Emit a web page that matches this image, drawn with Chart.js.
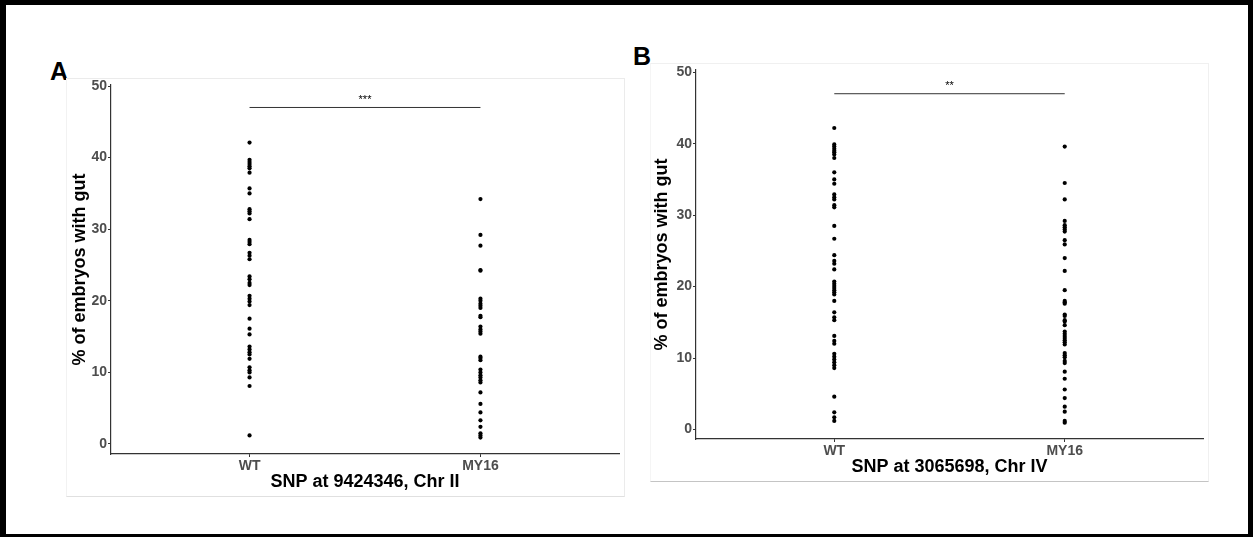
<!DOCTYPE html>
<html>
<head>
<meta charset="utf-8">
<script src="https://cdn.jsdelivr.net/npm/chart.js@4"></script>
<style>
  body { margin: 0; background: #fff; font-family: "Liberation Sans", Arial, sans-serif; }
  #frame { position: relative; width: 1253px; height: 537px; box-sizing: border-box;
           border-style: solid; border-color: #000; border-width: 5px 5px 3px 6px; }
  .panel { position: absolute; background: #fff; }
  #panelA { left: 60px; top: 73px; width: 557px; height: 417px;
            border: 1px solid #ebebeb; border-bottom-color: #e0e0e0; border-left-color: #f2f2f2; }
  #panelB { left: 644px; top: 58px; width: 557px; height: 417px;
            border: 1px solid #f0f0f0; border-bottom-color: #c4c4c4; border-left-color: #f5f5f5; }
  .tag { position: absolute; font-weight: bold; font-size: 25px; line-height: 25px; color: #000; }
</style>
</head>
<body>
<div id="frame">
  <div class="tag" style="left:44px; top:54px;">A</div>
  <div class="tag" style="left:627px; top:39px;">B</div>
  <div class="panel" id="panelA"><canvas id="chartA" width="557" height="417"></canvas></div>
  <div class="panel" id="panelB"><canvas id="chartB" width="557" height="417"></canvas></div>
</div>
<script>
// categories and tick labels
const categories = ['WT', 'MY16'];
const yTicks = [0, 10, 20, 30, 40, 50];

// panel A: SNP at 9424346, Chr II  (% of embryos with gut)
const wtA = [42.1, 39.7, 39.4, 39.1, 38.8, 38.5, 37.9, 35.7, 35.0, 32.8, 32.5, 32.2, 31.4,
  28.5, 28.2, 27.9, 26.7, 26.3, 25.8, 23.4, 23.0, 22.5, 22.2, 20.7, 20.3, 19.9, 19.4,
  17.5, 16.1, 15.3, 13.6, 13.2, 12.8, 12.5, 11.9, 10.7, 10.3, 10.0, 9.3, 8.1, 1.2];
const my16A = [34.2, 29.2, 27.7, 24.3, 24.2, 20.3, 20.0, 19.6, 19.3, 19.0, 17.9, 17.7,
  16.4, 16.0, 15.7, 15.4, 12.2, 12.0, 11.7, 10.4, 10.0, 9.6, 9.3, 8.9, 8.6, 7.2,
  5.6, 4.4, 3.3, 2.4, 1.5, 1.2, 0.9];

// panel B: SNP at 3065698, Chr IV
const wtB = [42.2, 39.9, 39.6, 39.3, 39.0, 38.8, 38.5, 38.0, 36.0, 35.0, 34.4, 32.9, 32.5,
  32.2, 31.4, 31.1, 28.5, 26.7, 24.4, 23.6, 23.2, 22.4, 20.7, 20.4, 20.1, 19.8, 19.5,
  19.2, 18.9, 18.0, 16.4, 15.7, 15.3, 13.1, 12.4, 12.0, 10.6, 10.2, 9.8, 9.4, 9.0,
  8.6, 4.6, 2.4, 1.7, 1.2];
const my16B = [39.6, 34.5, 32.2, 29.2, 28.6, 28.3, 28.0, 27.7, 26.5, 25.9, 24.0, 22.2,
  19.5, 18.0, 17.8, 17.6, 16.1, 15.9, 15.3, 15.1, 14.6, 13.7, 13.4, 13.1, 12.8, 12.5,
  12.2, 11.9, 10.7, 10.4, 10.1, 9.6, 9.3, 8.1, 7.1, 5.6, 4.4, 3.2, 2.5, 1.2, 0.95];

// significance brackets
const sigA = { level: 47, label: '***' };
const sigB = { level: 47, label: '**' };

Chart.defaults.font.family = '"Liberation Sans", Arial, sans-serif';
Chart.defaults.animation = false;

const sigPlugin = {
  id: 'sigText',
  afterDatasetsDraw(chart) {
    const s = chart.options.plugins.sigText;
    const ctx = chart.ctx;
    const x = chart.scales.x.getPixelForValue(1.5);
    const y = chart.scales.y.getPixelForValue(s.level);
    ctx.save();
    ctx.fillStyle = '#000';
    ctx.font = '11px "Liberation Sans", Arial, sans-serif';
    ctx.textAlign = 'center';
    ctx.textBaseline = 'bottom';
    ctx.fillText(s.label, x, y - 2);
    ctx.restore();
  }
};

function makeChart(id, wt, my16, sig, xTitle, o) {
  const pts = [];
  wt.forEach(v => pts.push({ x: 1, y: v }));
  my16.forEach(v => pts.push({ x: 2, y: v }));
  return new Chart(document.getElementById(id), {
    type: 'scatter',
    data: {
      datasets: [
        {
          data: pts,
          backgroundColor: '#000',
          borderWidth: 0,
          pointRadius: 2.1
        },
        {
          data: [{ x: 1, y: sig.level }, { x: 2, y: sig.level }],
          showLine: true,
          borderColor: '#333',
          borderWidth: 1,
          pointRadius: 0
        }
      ]
    },
    options: {
      responsive: false,
      layout: { padding: { left: 0, right: 5, top: 6, bottom: 0 } },
      plugins: {
        legend: { display: false },
        tooltip: { enabled: false },
        sigText: sig
      },
      scales: {
        x: {
          type: 'linear',
          min: 0.4,
          max: 2.6,
          afterFit: s => { s.height = 42; s.paddingLeft = 0; s.paddingRight = 0; },
          afterBuildTicks: s => { s.ticks = categories.map((c, i) => ({ value: i + 1 })); },
          border: { display: true, color: '#333', width: 1.2 },
          grid: { display: true, drawOnChartArea: false, drawTicks: true, tickLength: 3, color: '#333' },
          ticks: {
            padding: 1,
            color: '#4d4d4d',
            font: { size: 14, weight: 'bold' },
            callback: v => categories[v - 1]
          },
          title: {
            display: true,
            text: xTitle,
            color: '#000',
            font: { size: 18, weight: 'bold' },
            padding: { top: 0, bottom: 3 }
          }
        },
        y: {
          min: o.yMin,
          max: o.yMax,
          afterFit: s => { s.width = o.yWidth; s.paddingTop = 0; s.paddingBottom = 0; },
          afterBuildTicks: s => { s.ticks = yTicks.map(v => ({ value: v })); },
          border: { display: true, color: '#333', width: 1.2 },
          grid: { display: true, drawOnChartArea: false, drawTicks: true, tickLength: 3, color: '#333' },
          ticks: {
            padding: 1,
            color: '#4d4d4d',
            font: { size: 14, weight: 'bold' }
          },
          title: {
            display: true,
            text: '% of embryos with gut',
            color: '#000',
            font: { size: 18, weight: 'bold' },
            padding: { top: o.titlePad, bottom: 0 }
          }
        }
      }
    },
    plugins: [sigPlugin]
  });
}

makeChart('chartA', wtA, my16A, sigA, 'SNP at 9424346, Chr II',
  { yMin: -1.4, yMax: 50.14, yWidth: 44, titlePad: 2 });
makeChart('chartB', wtB, my16B, sigB, 'SNP at 3065698, Chr IV',
  { yMin: -1.33, yMax: 50.32, yWidth: 45, titlePad: 0 });
</script>
</body>
</html>
